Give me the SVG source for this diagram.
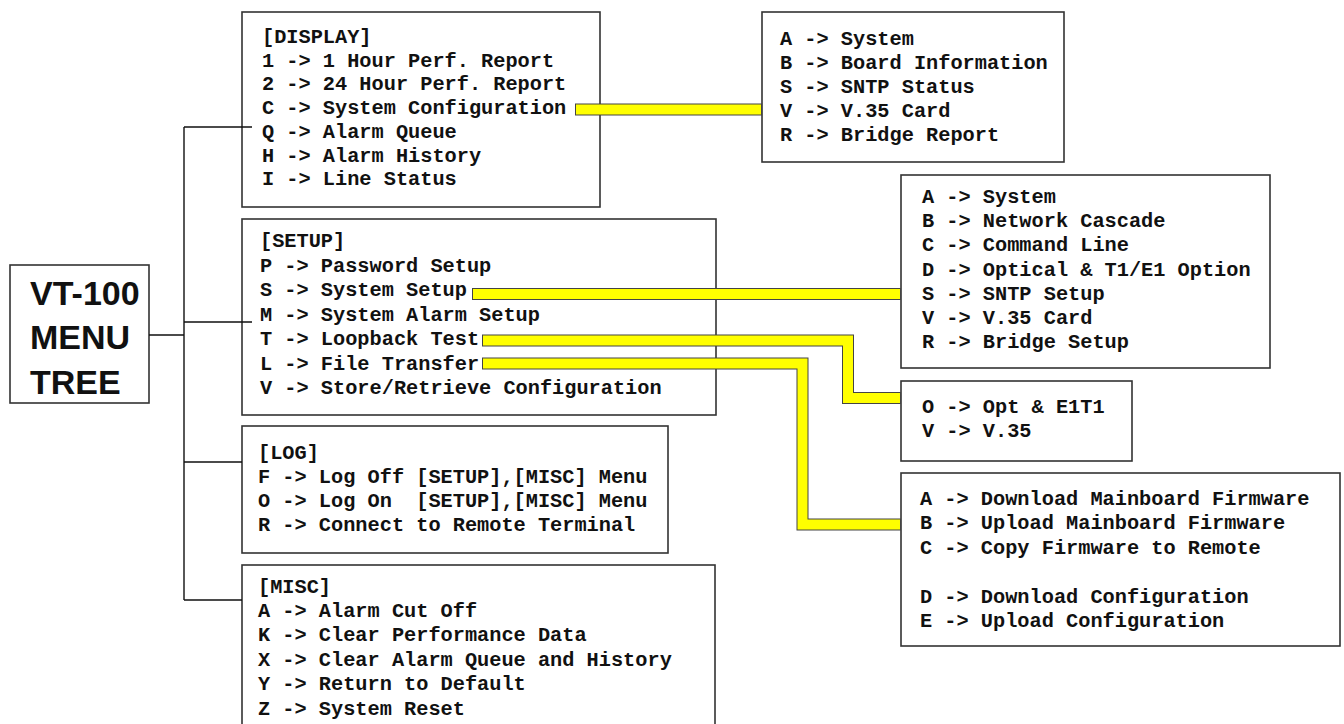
<svg xmlns="http://www.w3.org/2000/svg" width="1344" height="724" viewBox="0 0 1344 724">
<style>
.box{fill:#fff;stroke:#333;stroke-width:1.6}
.m{font-family:"Liberation Mono","DejaVu Sans Mono",monospace;font-weight:bold;font-size:20.3px;fill:#111;white-space:pre}
.t{font-family:"Liberation Sans",Arial,sans-serif;font-weight:bold;font-size:34px;fill:#111}
.ln{fill:none;stroke:#111;stroke-width:1.4}
.bo{fill:none;stroke:#444;stroke-width:12;stroke-linejoin:miter;stroke-linecap:butt}
.bi{fill:none;stroke:#ffff00;stroke-width:10;stroke-linejoin:miter;stroke-linecap:butt}
</style>
<rect width="1344" height="724" fill="#fff"/>
<g id="root">
<rect class="box" x="10" y="265" width="139" height="138"/>
<text class="t" x="30" y="305">VT-100</text>
<text class="t" x="30" y="349">MENU</text>
<text class="t" x="30" y="394">TREE</text>
</g>
<g id="display">
<rect class="box" x="242" y="12" width="358" height="195"/>
<text class="m" x="262" y="43">[DISPLAY]</text>
<text class="m" x="262" y="66.7">1 -&gt; 1 Hour Perf. Report</text>
<text class="m" x="262" y="90.4">2 -&gt; 24 Hour Perf. Report</text>
<text class="m" x="262" y="114.1">C -&gt; System Configuration</text>
<text class="m" x="262" y="137.8">Q -&gt; Alarm Queue</text>
<text class="m" x="262" y="161.5">H -&gt; Alarm History</text>
<text class="m" x="262" y="185.2">I -&gt; Line Status</text>
</g>
<g id="setup">
<rect class="box" x="242" y="219" width="474" height="196"/>
<text class="m" x="260" y="247">[SETUP]</text>
<text class="m" x="260" y="271.5">P -&gt; Password Setup</text>
<text class="m" x="260" y="296">S -&gt; System Setup</text>
<text class="m" x="260" y="320.5">M -&gt; System Alarm Setup</text>
<text class="m" x="260" y="345">T -&gt; Loopback Test</text>
<text class="m" x="260" y="369.5">L -&gt; File Transfer</text>
<text class="m" x="260" y="394">V -&gt; Store/Retrieve Configuration</text>
</g>
<g id="log">
<rect class="box" x="242" y="426" width="426" height="127"/>
<text class="m" x="258" y="459">[LOG]</text>
<text class="m" x="258" y="483">F -&gt; Log Off [SETUP],[MISC] Menu</text>
<text class="m" x="258" y="507">O -&gt; Log On  [SETUP],[MISC] Menu</text>
<text class="m" x="258" y="531">R -&gt; Connect to Remote Terminal</text>
</g>
<g id="misc">
<rect class="box" x="242" y="565" width="473" height="175"/>
<text class="m" x="258" y="593">[MISC]</text>
<text class="m" x="258" y="617">A -&gt; Alarm Cut Off</text>
<text class="m" x="258" y="641.4">K -&gt; Clear Performance Data</text>
<text class="m" x="258" y="665.8">X -&gt; Clear Alarm Queue and History</text>
<text class="m" x="258" y="690.2">Y -&gt; Return to Default</text>
<text class="m" x="258" y="714.6">Z -&gt; System Reset</text>
</g>
<g id="sysconfig">
<rect class="box" x="762" y="12" width="302" height="150"/>
<text class="m" x="780" y="44.5">A -&gt; System</text>
<text class="m" x="780" y="68.7">B -&gt; Board Information</text>
<text class="m" x="780" y="92.9">S -&gt; SNTP Status</text>
<text class="m" x="780" y="117.1">V -&gt; V.35 Card</text>
<text class="m" x="780" y="141.3">R -&gt; Bridge Report</text>
</g>
<g id="syssetup">
<rect class="box" x="901" y="175" width="369" height="193"/>
<text class="m" x="922" y="203">A -&gt; System</text>
<text class="m" x="922" y="227.2">B -&gt; Network Cascade</text>
<text class="m" x="922" y="251.4">C -&gt; Command Line</text>
<text class="m" x="922" y="275.6">D -&gt; Optical &amp; T1/E1 Option</text>
<text class="m" x="922" y="299.8">S -&gt; SNTP Setup</text>
<text class="m" x="922" y="324">V -&gt; V.35 Card</text>
<text class="m" x="922" y="348.2">R -&gt; Bridge Setup</text>
</g>
<g id="loopback">
<rect class="box" x="901" y="381" width="231" height="80"/>
<text class="m" x="922" y="413">O -&gt; Opt &amp; E1T1</text>
<text class="m" x="922" y="437">V -&gt; V.35</text>
</g>
<g id="filetransfer">
<rect class="box" x="901" y="473" width="439" height="173"/>
<text class="m" x="920" y="505">A -&gt; Download Mainboard Firmware</text>
<text class="m" x="920" y="529.4">B -&gt; Upload Mainboard Firmware</text>
<text class="m" x="920" y="553.8">C -&gt; Copy Firmware to Remote</text>
<text class="m" x="920" y="602.6">D -&gt; Download Configuration</text>
<text class="m" x="920" y="627">E -&gt; Upload Configuration</text>
</g>
<g id="connectors">
<path class="ln" d="M149 335H184M184 127V600M184 127H252M184 322H252M184 462H242M184 600H242"/>
<polyline class="bo" points="575,109.5 762,109.5"/>
<polyline class="bi" points="576,109.5 761,109.5"/>
<polyline class="bo" points="472,294 901,294"/>
<polyline class="bi" points="473,294 900,294"/>
<polyline class="bo" points="482,340.5 848,340.5 848,398 901,398"/>
<polyline class="bi" points="483,340.5 848,340.5 848,398 900,398"/>
<polyline class="bo" points="482,363.5 802.5,363.5 802.5,524.5 901,524.5"/>
<polyline class="bi" points="483,363.5 802.5,363.5 802.5,524.5 900,524.5"/>
</g>
</svg>
